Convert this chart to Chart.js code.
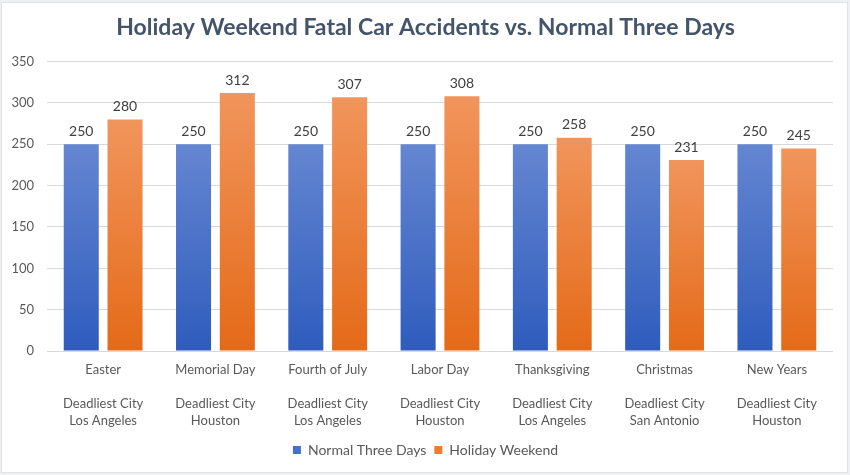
<!DOCTYPE html>
<html>
<head>
<meta charset="utf-8">
<script src="https://cdn.jsdelivr.net/npm/chart.js@4.4.1/dist/chart.umd.min.js"></script>
<style>
    html, body { margin: 0; padding: 0; background: #eef0f3; }
    #wrap {
        position: absolute; left: 1px; top: 2px; width: 847px; height: 471px;
        background: #fff; border: 1px solid #dfe2e6; box-sizing: border-box;
    }
    canvas { position: absolute; left: 0; top: 0; }
</style>
</head>
<body>
<div id="wrap"><canvas id="chart" width="847" height="471"></canvas></div>
<script>
const holidays = ['Easter', 'Memorial Day', 'Fourth of July', 'Labor Day', 'Thanksgiving', 'Christmas', 'New Years'];
const cities = ['Los Angeles', 'Houston', 'Los Angeles', 'Houston', 'Los Angeles', 'San Antonio', 'Houston'];
const normalDays = [250, 250, 250, 250, 250, 250, 250];
const holidayWeekend = [280, 312, 307, 308, 258, 231, 245];
const yTicks = [0, 50, 100, 150, 200, 250, 300, 350];

const labels = holidays.map((h, i) => [h, '', 'Deadliest City', cities[i]]);

function barGradient(top, bottom) {
    return function (context) {
        const chart = context.chart;
        if (!chart.chartArea || context.parsed === undefined) return bottom;
        const y = chart.scales.y;
        const y0 = y.getPixelForValue(0);
        const y1 = y.getPixelForValue(context.parsed.y);
        if (!isFinite(y0) || !isFinite(y1) || y0 === y1) return bottom;
        const g = chart.ctx.createLinearGradient(0, y1, 0, y0);
        g.addColorStop(0, top);
        g.addColorStop(1, bottom);
        return g;
    };
}

// draws the value above each bar
const valueLabels = {
    id: 'valueLabels',
    afterDatasetsDraw(chart) {
        const ctx = chart.ctx;
        ctx.save();
        ctx.font = '14px Lato';
        ctx.fillStyle = '#404040';
        ctx.textAlign = 'center';
        ctx.textBaseline = 'bottom';
        chart.data.datasets.forEach((ds, i) => {
            chart.getDatasetMeta(i).data.forEach((bar, j) => {
                ctx.fillText(ds.data[j], bar.x, bar.y - 6);
            });
        });
        ctx.restore();
    }
};

new Chart(document.getElementById('chart'), {
    type: 'bar',
    data: {
        labels: labels,
        datasets: [{
            label: 'Normal Three Days',
            data: normalDays,
            backgroundColor: barGradient('#6586d1', '#2e5cbd'),
            borderWidth: 0
        }, {
            label: 'Holiday Weekend',
            data: holidayWeekend,
            backgroundColor: barGradient('#f1955c', '#e46a18'),
            borderWidth: 0
        }]
    },
    options: {
        responsive: false,
        animation: false,
        barPercentage: 0.8,
        categoryPercentage: 0.78,
        layout: { padding: { left: 0, right: 0, top: 0, bottom: 7 } },
        plugins: {
            title: {
                display: true,
                text: 'Holiday Weekend Fatal Car Accidents vs. Normal Three Days',
                color: '#44546a',
                font: { family: 'Lato', size: 23, weight: 'bold' },
                padding: { top: 11, bottom: 20 }
            },
            legend: {
                position: 'bottom',
                labels: {
                    boxWidth: 8,
                    boxHeight: 8,
                    color: '#595959',
                    font: { family: 'Lato', size: 14 },
                    padding: 8,
                    generateLabels(chart) {
                        return chart.data.datasets.map((ds, i) => ({
                            text: ds.label,
                            fillStyle: i === 0 ? '#4472c4' : '#ed7d31',
                            strokeStyle: 'transparent',
                            lineWidth: 0,
                            fontColor: '#595959',
                            datasetIndex: i
                        }));
                    }
                }
            },
            tooltip: { enabled: false }
        },
        scales: {
            x: {
                grid: { display: false },
                border: { display: false },
                afterFit(scale) { scale.height = 84; },
                ticks: {
                    color: '#595959',
                    font: { family: 'Lato', size: 13, lineHeight: 17 / 13 },
                    maxRotation: 0,
                    padding: 2
                }
            },
            y: {
                min: 0,
                max: 350,
                afterBuildTicks(scale) {
                    scale.ticks = yTicks.map(v => ({ value: v }));
                },
                afterFit(scale) { scale.width = 45; },
                grid: { color: '#d9d9d9', drawTicks: false },
                border: { display: false },
                ticks: {
                    color: '#595959',
                    font: { family: 'Lato', size: 13 },
                    padding: 13
                }
            },
            // empty right-hand margin so title and legend stay centred
            yRight: {
                position: 'right',
                grid: { display: false },
                border: { display: false },
                ticks: { display: false },
                afterFit(scale) { scale.width = 16; }
            }
        }
    },
    plugins: [valueLabels]
});
</script>
</body>
</html>
